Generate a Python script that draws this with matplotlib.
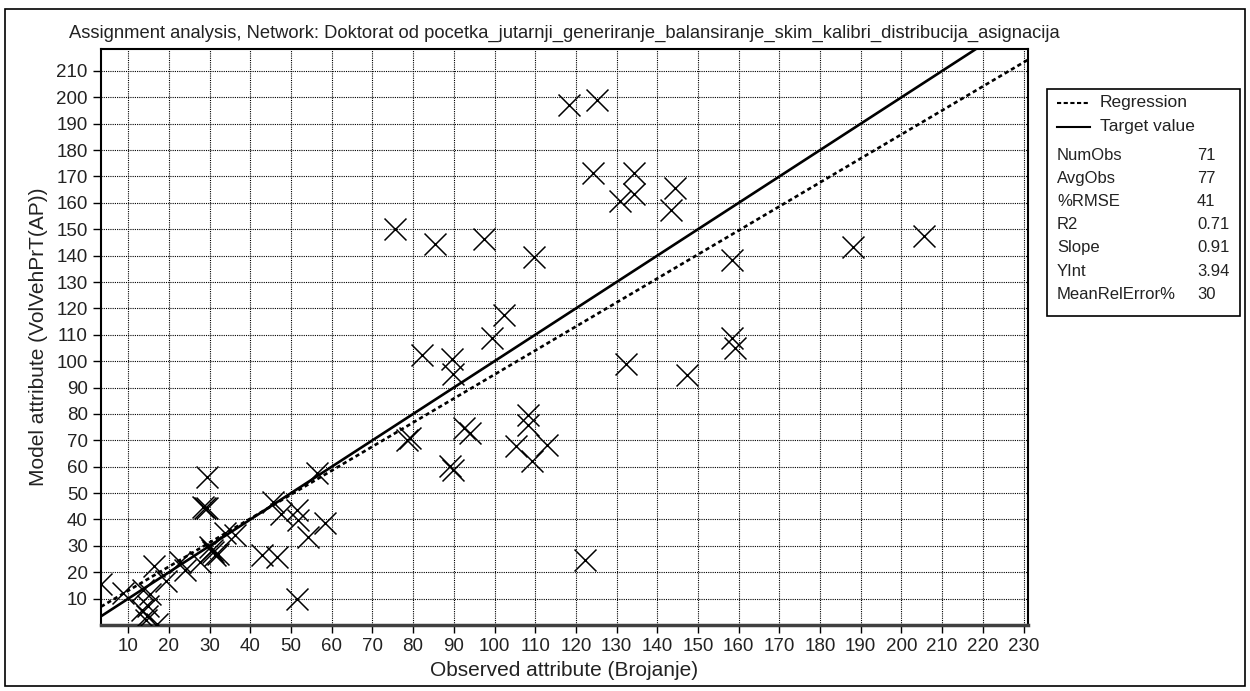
import matplotlib
matplotlib.use("Agg")
import matplotlib.pyplot as plt
from matplotlib.patches import Rectangle

# Observed (Brojanje) vs model (VolVehPrT(AP)) values
observed = [3.3, 8.6, 16.3, 19.2, 13.7, 15.3, 14.9, 13.3, 14.3, 17.0,
            22.7, 23.9, 27.6, 29.3, 28.4, 29.3, 30.0, 30.9, 32.1, 33.8,
            36.2, 42.8, 46.5, 45.5, 47.5, 51.4, 51.8, 54.2, 58.4, 56.3,
            51.4, 78.4, 79.2, 82.1, 89.5, 89.9, 89.1, 89.7, 92.5, 94.0,
            99.3, 102.4, 105.3, 109.2, 108.2, 108.2, 113.0, 122.3, 118.2, 125.1,
            124.2, 130.9, 134.3, 134.3, 144.4, 143.3, 97.3, 109.6, 158.3, 75.6,
            85.4, 132.3, 147.3, 158.3, 159.1, 188.2, 205.6, 30.6, 31.4, 14.6, 28.9]
modelled = [15.4, 12.3, 22.5, 16.6, 13.1, 11.8, 7.2, 5.6, 1.8, 0.3,
            23.9, 20.7, 23.9, 56.1, 44.8, 44.5, 29.6, 27.7, 27.1, 34.7,
            34.0, 26.4, 25.8, 46.6, 41.9, 43.5, 39.7, 33.4, 38.7, 57.6,
            10.0, 70.1, 70.7, 102.3, 100.7, 95.1, 60.2, 58.7, 74.5, 72.8,
            108.6, 117.5, 67.8, 62.1, 79.5, 75.8, 68.2, 24.5, 197.1, 198.8,
            171.5, 160.8, 171.2, 163.4, 165.5, 157.3, 146.3, 139.6, 138.3, 150.1,
            144.4, 98.9, 94.7, 108.6, 105.1, 143.4, 147.4, 28.6, 26.6, 3.6, 44.2]

stat_names = ["NumObs", "AvgObs", "%RMSE", "R2", "Slope", "YInt", "MeanRelError%"]
stat_values = ["71", "77", "41", "0.71", "0.91", "3.94", "30"]
slope = 0.91
yint = 3.94

x_ticks = list(range(10, 231, 10))
y_ticks = list(range(10, 211, 10))
x_min, x_max = 3.3, 231.1
y_min, y_max = 0, 218.5

title = ("Assignment analysis, Network: Doktorat od pocetka_jutarnji_generiranje_"
         "balansiranje_skim_kalibri_distribucija_asignacija")

plt.rcParams["font.family"] = ["Liberation Sans", "DejaVu Sans"]

fig = plt.figure(figsize=(12.5, 6.91), dpi=100)
ax = fig.add_axes([0.0808, 0.0955, 0.7416, 0.8343])

ax.set_xlim(x_min, x_max)
ax.set_ylim(y_min, y_max)
ax.set_xticks(x_ticks)
ax.set_yticks(y_ticks)
ax.tick_params(direction="out", length=6, width=1, labelsize=13.5, colors="black")
ax.tick_params(labelcolor="#222222")
ax.grid(True, color="black", linestyle=(0, (1, 1)), linewidth=0.8)
ax.set_axisbelow(True)

for side in ["top", "right", "left"]:
    ax.spines[side].set_linewidth(1.5)
    ax.spines[side].set_color("black")
ax.spines["bottom"].set_linewidth(2.5)
ax.spines["bottom"].set_color("#404040")

ax.scatter(observed, modelled, marker="x", s=250, color="black", linewidths=1.1, zorder=3)

line_x = [x_min, x_max]
ax.plot(line_x, [v for v in line_x], color="black", lw=1.9, zorder=4)
ax.plot(line_x, [slope * v + yint for v in line_x], color="black", lw=1.9,
        linestyle=(0, (1.6, 1.2)), zorder=4)

ax.set_title(title, fontsize=13.2, pad=8, color="#222222")
ax.set_xlabel("Observed attribute (Brojanje)", fontsize=15, labelpad=4, color="#222222")
ax.set_ylabel("Model attribute (VolVehPrT(AP))", fontsize=15, labelpad=6, color="#222222")

# legend / statistics box
W, H = 1250, 691
fig.patches.append(Rectangle((1047 / W, 1 - 316 / H), 193 / W, 227 / H,
                             transform=fig.transFigure, fill=False,
                             edgecolor="black", lw=1.2))
fig.lines.append(plt.Line2D([1057 / W, 1090 / W], [1 - 103 / H] * 2,
                            transform=fig.transFigure, color="black", lw=1.5,
                            linestyle=(0, (2, 1.2))))
fig.lines.append(plt.Line2D([1057 / W, 1090 / W], [1 - 127 / H] * 2,
                            transform=fig.transFigure, color="black", lw=1.5))
fig.text(1100 / W, 1 - 103 / H, "Regression", fontsize=12.5, va="center", color="#222222")
fig.text(1100 / W, 1 - 127 / H, "Target value", fontsize=12.5, va="center", color="#222222")
for i, (name, val) in enumerate(zip(stat_names, stat_values)):
    yy = 1 - (155 + i * 23.2) / H
    fig.text(1057 / W, yy, name, fontsize=12, va="center", color="#222222")
    fig.text(1197 / W, yy, val, fontsize=12, va="center", color="#222222")

# outer frame
fig.patches.append(Rectangle((5 / W, 1 - 686 / H), 1240 / W, 677 / H,
                             transform=fig.transFigure, fill=False,
                             edgecolor="black", lw=1.2))

fig.savefig("out.png", dpi=100)
